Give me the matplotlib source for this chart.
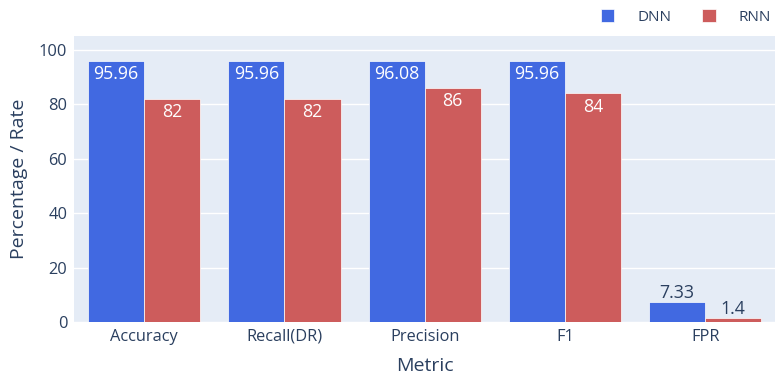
import numpy as np
import matplotlib.pyplot as plt

plt.rcParams["font.family"] = ["Open Sans", "DejaVu Sans"]

metrics = ["Accuracy", "Recall(DR)", "Precision", "F1", "FPR"]
dnn = [95.96, 95.96, 96.08, 95.96, 7.33]
rnn = [82, 82, 86, 84, 1.4]
dnn_labels = ["95.96", "95.96", "96.08", "95.96", "7.33"]
rnn_labels = ["82", "82", "86", "84", "1.4"]

BG = "#E5ECF6"
TXT = "#2a3f5f"

fig = plt.figure(figsize=(7.8, 3.77), dpi=100)
ax = fig.add_axes([0.095, 0.146, 0.899, 0.759])
ax.set_facecolor(BG)

x = np.arange(len(metrics))
w = 0.4
b1 = ax.bar(x - w / 2, dnn, w, color="#4169E1", edgecolor="white", linewidth=0.5, label="DNN", zorder=3)
b2 = ax.bar(x + w / 2, rnn, w, color="#CD5C5C", edgecolor="white", linewidth=0.5, label="RNN", zorder=3)

for bars, labels in ((b1, dnn_labels), (b2, rnn_labels)):
    for rect, lab in zip(bars, labels):
        h = rect.get_height()
        cx = rect.get_x() + rect.get_width() / 2
        if h > 20:
            ax.annotate(lab, (cx, h), xytext=(0, -3), textcoords="offset points",
                        ha="center", va="top", color="white", fontsize=12.8, zorder=4)
        else:
            ax.annotate(lab, (cx, h), xytext=(0, 0), textcoords="offset points",
                        ha="center", va="bottom", color=TXT, fontsize=12.8, zorder=4)

ax.set_xlim(-0.5, len(metrics) - 0.5)
ax.set_ylim(0, 105.2)
ax.set_yticks([0, 20, 40, 60, 80, 100])
ax.set_xticks(x)
ax.set_xticklabels(metrics)
ax.grid(axis="y", color="white", linewidth=1, zorder=0)
ax.tick_params(length=0, colors=TXT, labelsize=11.8, pad=5)
for s in ax.spines.values():
    s.set_visible(False)

ax.set_xlabel("Metric", color=TXT, fontsize=14, labelpad=9)
ax.set_ylabel("Percentage / Rate", color=TXT, fontsize=14, labelpad=8)

leg = fig.legend(handles=[b1, b2], labels=["DNN", "RNN"], loc="upper right",
                 bbox_to_anchor=(1.006, 1.012), ncol=2, frameon=False, fontsize=11,
                 handlelength=0.9, handleheight=0.9, columnspacing=2.0, handletextpad=1.5)
for t in leg.get_texts():
    t.set_color(TXT)

fig.savefig("out.png", dpi=100)
